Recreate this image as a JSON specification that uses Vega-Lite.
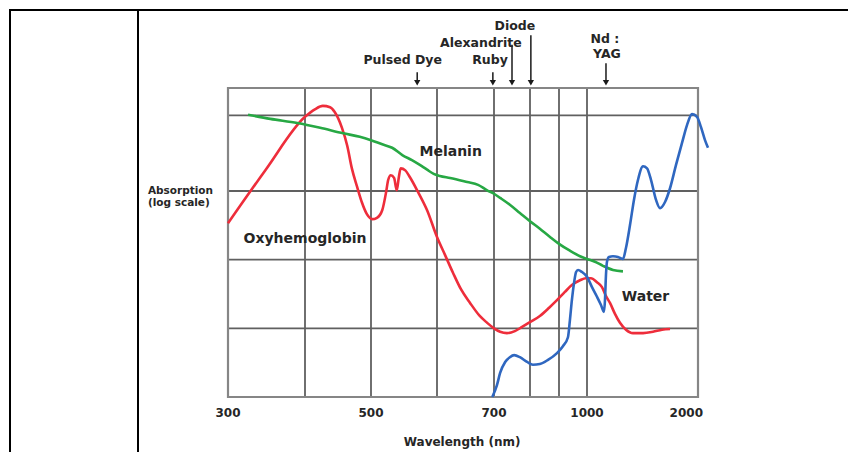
{
  "$schema": "https://vega.github.io/schema/vega-lite/v6.json",
  "background": "white",
  "padding": {"left": 9, "top": 9, "right": -11, "bottom": -19},
  "spacing": 0,
  "bounds": "flush",
  "config": {
    "view": {"stroke": "black", "strokeWidth": 2},
    "axis": {"disable": true},
    "text": {"font": "DejaVu Sans", "fontWeight": "bold", "color": "#262626"}
  },
  "datasets": {
    "curves": [
      {"series": "Oxyhemoglobin", "wl": 300, "a": 2.53},
      {"series": "Oxyhemoglobin", "wl": 349, "a": 3.31},
      {"series": "Oxyhemoglobin", "wl": 400, "a": 4.08},
      {"series": "Oxyhemoglobin", "wl": 415, "a": 4.19},
      {"series": "Oxyhemoglobin", "wl": 427, "a": 4.24},
      {"series": "Oxyhemoglobin", "wl": 438, "a": 4.22},
      {"series": "Oxyhemoglobin", "wl": 445, "a": 4.15},
      {"series": "Oxyhemoglobin", "wl": 456, "a": 3.92},
      {"series": "Oxyhemoglobin", "wl": 464, "a": 3.66},
      {"series": "Oxyhemoglobin", "wl": 471, "a": 3.33},
      {"series": "Oxyhemoglobin", "wl": 479, "a": 3.06},
      {"series": "Oxyhemoglobin", "wl": 486, "a": 2.84},
      {"series": "Oxyhemoglobin", "wl": 494, "a": 2.66},
      {"series": "Oxyhemoglobin", "wl": 502, "a": 2.59},
      {"series": "Oxyhemoglobin", "wl": 509, "a": 2.61},
      {"series": "Oxyhemoglobin", "wl": 517, "a": 2.72},
      {"series": "Oxyhemoglobin", "wl": 523, "a": 2.99},
      {"series": "Oxyhemoglobin", "wl": 526, "a": 3.16},
      {"series": "Oxyhemoglobin", "wl": 530, "a": 3.23},
      {"series": "Oxyhemoglobin", "wl": 535, "a": 3.19},
      {"series": "Oxyhemoglobin", "wl": 539, "a": 3.01},
      {"series": "Oxyhemoglobin", "wl": 542, "a": 3.19},
      {"series": "Oxyhemoglobin", "wl": 545, "a": 3.33},
      {"series": "Oxyhemoglobin", "wl": 552, "a": 3.30},
      {"series": "Oxyhemoglobin", "wl": 559, "a": 3.20},
      {"series": "Oxyhemoglobin", "wl": 571, "a": 2.99},
      {"series": "Oxyhemoglobin", "wl": 585, "a": 2.72},
      {"series": "Oxyhemoglobin", "wl": 600, "a": 2.33},
      {"series": "Oxyhemoglobin", "wl": 614, "a": 2.07},
      {"series": "Oxyhemoglobin", "wl": 628, "a": 1.81},
      {"series": "Oxyhemoglobin", "wl": 642, "a": 1.57},
      {"series": "Oxyhemoglobin", "wl": 658, "a": 1.37},
      {"series": "Oxyhemoglobin", "wl": 675, "a": 1.18},
      {"series": "Oxyhemoglobin", "wl": 688, "a": 1.08},
      {"series": "Oxyhemoglobin", "wl": 700, "a": 1.00},
      {"series": "Oxyhemoglobin", "wl": 717, "a": 0.95},
      {"series": "Oxyhemoglobin", "wl": 736, "a": 0.93},
      {"series": "Oxyhemoglobin", "wl": 758, "a": 0.96},
      {"series": "Oxyhemoglobin", "wl": 778, "a": 1.02},
      {"series": "Oxyhemoglobin", "wl": 800, "a": 1.09},
      {"series": "Oxyhemoglobin", "wl": 834, "a": 1.18},
      {"series": "Oxyhemoglobin", "wl": 866, "a": 1.30},
      {"series": "Oxyhemoglobin", "wl": 893, "a": 1.41},
      {"series": "Oxyhemoglobin", "wl": 921, "a": 1.53},
      {"series": "Oxyhemoglobin", "wl": 946, "a": 1.63},
      {"series": "Oxyhemoglobin", "wl": 975, "a": 1.70},
      {"series": "Oxyhemoglobin", "wl": 996, "a": 1.73},
      {"series": "Oxyhemoglobin", "wl": 1036, "a": 1.73},
      {"series": "Oxyhemoglobin", "wl": 1090, "a": 1.67},
      {"series": "Oxyhemoglobin", "wl": 1135, "a": 1.60},
      {"series": "Oxyhemoglobin", "wl": 1171, "a": 1.47},
      {"series": "Oxyhemoglobin", "wl": 1207, "a": 1.37},
      {"series": "Oxyhemoglobin", "wl": 1252, "a": 1.21},
      {"series": "Oxyhemoglobin", "wl": 1297, "a": 1.08},
      {"series": "Oxyhemoglobin", "wl": 1351, "a": 0.98},
      {"series": "Oxyhemoglobin", "wl": 1414, "a": 0.93},
      {"series": "Oxyhemoglobin", "wl": 1505, "a": 0.93},
      {"series": "Oxyhemoglobin", "wl": 1595, "a": 0.95},
      {"series": "Oxyhemoglobin", "wl": 1676, "a": 0.98},
      {"series": "Oxyhemoglobin", "wl": 1748, "a": 0.99},
      {"series": "Melanin", "wl": 326, "a": 4.11},
      {"series": "Melanin", "wl": 355, "a": 4.05},
      {"series": "Melanin", "wl": 390, "a": 3.99},
      {"series": "Melanin", "wl": 423, "a": 3.92},
      {"series": "Melanin", "wl": 458, "a": 3.84},
      {"series": "Melanin", "wl": 483, "a": 3.79},
      {"series": "Melanin", "wl": 500, "a": 3.74},
      {"series": "Melanin", "wl": 517, "a": 3.68},
      {"series": "Melanin", "wl": 532, "a": 3.63},
      {"series": "Melanin", "wl": 548, "a": 3.52},
      {"series": "Melanin", "wl": 562, "a": 3.45},
      {"series": "Melanin", "wl": 574, "a": 3.38},
      {"series": "Melanin", "wl": 585, "a": 3.31},
      {"series": "Melanin", "wl": 595, "a": 3.25},
      {"series": "Melanin", "wl": 605, "a": 3.22},
      {"series": "Melanin", "wl": 623, "a": 3.19},
      {"series": "Melanin", "wl": 653, "a": 3.13},
      {"series": "Melanin", "wl": 672, "a": 3.09},
      {"series": "Melanin", "wl": 688, "a": 3.01},
      {"series": "Melanin", "wl": 700, "a": 2.96},
      {"series": "Melanin", "wl": 717, "a": 2.90},
      {"series": "Melanin", "wl": 744, "a": 2.80},
      {"series": "Melanin", "wl": 772, "a": 2.68},
      {"series": "Melanin", "wl": 800, "a": 2.56},
      {"series": "Melanin", "wl": 834, "a": 2.45},
      {"series": "Melanin", "wl": 869, "a": 2.33},
      {"series": "Melanin", "wl": 900, "a": 2.23},
      {"series": "Melanin", "wl": 939, "a": 2.13},
      {"series": "Melanin", "wl": 975, "a": 2.05},
      {"series": "Melanin", "wl": 1000, "a": 2.01},
      {"series": "Melanin", "wl": 1072, "a": 1.97},
      {"series": "Melanin", "wl": 1144, "a": 1.91},
      {"series": "Melanin", "wl": 1234, "a": 1.85},
      {"series": "Melanin", "wl": 1324, "a": 1.83},
      {"series": "Water", "wl": 697, "a": 0.00},
      {"series": "Water", "wl": 708, "a": 0.17},
      {"series": "Water", "wl": 717, "a": 0.35},
      {"series": "Water", "wl": 731, "a": 0.51},
      {"series": "Water", "wl": 744, "a": 0.58},
      {"series": "Water", "wl": 756, "a": 0.61},
      {"series": "Water", "wl": 772, "a": 0.58},
      {"series": "Water", "wl": 792, "a": 0.51},
      {"series": "Water", "wl": 810, "a": 0.47},
      {"series": "Water", "wl": 834, "a": 0.48},
      {"series": "Water", "wl": 862, "a": 0.54},
      {"series": "Water", "wl": 893, "a": 0.64},
      {"series": "Water", "wl": 914, "a": 0.74},
      {"series": "Water", "wl": 932, "a": 0.87},
      {"series": "Water", "wl": 939, "a": 1.12},
      {"series": "Water", "wl": 946, "a": 1.41},
      {"series": "Water", "wl": 954, "a": 1.67},
      {"series": "Water", "wl": 961, "a": 1.82},
      {"series": "Water", "wl": 968, "a": 1.85},
      {"series": "Water", "wl": 982, "a": 1.82},
      {"series": "Water", "wl": 1000, "a": 1.75},
      {"series": "Water", "wl": 1045, "a": 1.60},
      {"series": "Water", "wl": 1090, "a": 1.46},
      {"series": "Water", "wl": 1126, "a": 1.34},
      {"series": "Water", "wl": 1153, "a": 1.24},
      {"series": "Water", "wl": 1162, "a": 1.41},
      {"series": "Water", "wl": 1171, "a": 1.78},
      {"series": "Water", "wl": 1180, "a": 1.97},
      {"series": "Water", "wl": 1198, "a": 2.04},
      {"series": "Water", "wl": 1234, "a": 2.05},
      {"series": "Water", "wl": 1279, "a": 2.04},
      {"series": "Water", "wl": 1324, "a": 2.01},
      {"series": "Water", "wl": 1351, "a": 2.17},
      {"series": "Water", "wl": 1387, "a": 2.50},
      {"series": "Water", "wl": 1423, "a": 2.87},
      {"series": "Water", "wl": 1459, "a": 3.16},
      {"series": "Water", "wl": 1505, "a": 3.36},
      {"series": "Water", "wl": 1541, "a": 3.33},
      {"series": "Water", "wl": 1577, "a": 3.16},
      {"series": "Water", "wl": 1622, "a": 2.87},
      {"series": "Water", "wl": 1658, "a": 2.75},
      {"series": "Water", "wl": 1703, "a": 2.84},
      {"series": "Water", "wl": 1748, "a": 3.04},
      {"series": "Water", "wl": 1802, "a": 3.38},
      {"series": "Water", "wl": 1856, "a": 3.70},
      {"series": "Water", "wl": 1901, "a": 3.96},
      {"series": "Water", "wl": 1946, "a": 4.12},
      {"series": "Water", "wl": 1991, "a": 4.08},
      {"series": "Water", "wl": 2027, "a": 3.93},
      {"series": "Water", "wl": 2063, "a": 3.74},
      {"series": "Water", "wl": 2090, "a": 3.63}
    ],
    "vgrid": [{"wl": 400}, {"wl": 500}, {"wl": 600}, {"wl": 700}, {"wl": 800}, {"wl": 900}, {"wl": 1000}],
    "hgrid": [{"a": 1}, {"a": 2}, {"a": 3}, {"a": 4.1}],
    "box": [{"wl": 300, "wl2": 2000, "a": 0, "a2": 4.5}],
    "ticks": [{"wl": 300, "label": "300"}, {"wl": 500, "label": "500"}, {"wl": 700, "label": "700"}, {"wl": 1000, "label": "1000"}],
    "lasers": [
      {"laser": "Pulsed Dye", "wl": 570, "top": 4.73},
      {"laser": "Ruby", "wl": 698, "top": 4.73},
      {"laser": "Alexandrite", "wl": 750, "top": 5.13},
      {"laser": "Diode", "wl": 803, "top": 5.27},
      {"laser": "Nd:YAG", "wl": 1171, "top": 4.86}
    ],
    "laserLabels": [
      {"text": "Pulsed Dye", "wl": 548, "a": 4.91},
      {"text": "Ruby", "wl": 693, "a": 4.91},
      {"text": "Alexandrite", "wl": 677, "a": 5.155},
      {"text": "Diode", "wl": 758, "a": 5.40},
      {"text": "Nd :", "wl": 1162, "a": 5.21},
      {"text": "YAG", "wl": 1180, "a": 4.995}
    ],
    "curveLabels": [
      {"text": "Oxyhemoglobin", "wl": 400, "a": 2.3},
      {"text": "Melanin", "wl": 624, "a": 3.57},
      {"text": "Water", "wl": 1527, "a": 1.46}
    ],
    "ytitle": [{"text": "Absorption", "a": 3.0}, {"text": "(log scale)", "a": 2.82}]
  },
  "hconcat": [
    {
      "width": 128,
      "height": 460,
      "data": {"values": [{"u": 0.5, "v": 0.5}]},
      "mark": {"type": "point", "opacity": 0, "size": 1},
      "encoding": {
        "x": {"field": "u", "type": "quantitative", "axis": null, "scale": {"domain": [0, 1]}},
        "y": {"field": "v", "type": "quantitative", "axis": null, "scale": {"domain": [0, 1]}}
      }
    },
    {
      "width": 720,
      "height": 460,
      "layer": [
        {
          "data": {"name": "vgrid"},
          "mark": {"type": "rule", "color": "#606060", "strokeWidth": 1.8},
          "encoding": {
            "x": {"field": "wl", "type": "quantitative", "axis": null,
                  "scale": {"domain": [300, 400, 500, 600, 700, 800, 900, 1000, 2000], "range": [90, 167, 233, 299, 356, 392, 421, 449, 560], "nice": false, "zero": false}},
            "y": {"datum": 0, "type": "quantitative", "axis": null,
                  "scale": {"domain": [0, 4.5], "range": [387, 78], "nice": false, "zero": false}},
            "y2": {"datum": 4.5}
          }
        },
        {
          "data": {"name": "hgrid"},
          "mark": {"type": "rule", "color": "#606060", "strokeWidth": 1.8},
          "encoding": {
            "y": {"field": "a", "type": "quantitative", "axis": null},
            "x": {"datum": 300, "type": "quantitative", "axis": null},
            "x2": {"datum": 2000}
          }
        },
        {
          "data": {"name": "box"},
          "mark": {"type": "rect", "fill": null, "stroke": "#868686", "strokeWidth": 2.2},
          "encoding": {
            "x": {"field": "wl", "type": "quantitative", "axis": null},
            "x2": {"field": "wl2"},
            "y": {"field": "a", "type": "quantitative", "axis": null},
            "y2": {"field": "a2"}
          }
        },
        {
          "data": {"name": "curves"},
          "mark": {"type": "line", "interpolate": "monotone", "strokeWidth": 2.6},
          "encoding": {
            "x": {"field": "wl", "type": "quantitative", "axis": null},
            "y": {"field": "a", "type": "quantitative", "axis": null},
            "color": {"field": "series", "type": "nominal", "legend": null,
                      "scale": {"domain": ["Melanin", "Oxyhemoglobin", "Water"], "range": ["#27a844", "#ee2d3b", "#2f67c0"]}},
            "order": {"field": "wl", "type": "quantitative"}
          }
        },
        {
          "data": {"name": "lasers"},
          "mark": {"type": "rule", "color": "#1a1a1a", "strokeWidth": 1.5},
          "encoding": {
            "x": {"field": "wl", "type": "quantitative", "axis": null},
            "y": {"field": "top", "type": "quantitative", "axis": null},
            "y2": {"datum": 4.6}
          }
        },
        {
          "data": {"name": "lasers"},
          "mark": {"type": "point", "shape": "triangle-down", "filled": true, "color": "#1a1a1a", "size": 40, "opacity": 1},
          "encoding": {
            "x": {"field": "wl", "type": "quantitative", "axis": null},
            "y": {"datum": 4.575, "type": "quantitative", "axis": null}
          }
        },
        {
          "data": {"name": "laserLabels"},
          "mark": {"type": "text", "fontSize": 12.5, "baseline": "middle", "align": "center"},
          "encoding": {
            "x": {"field": "wl", "type": "quantitative", "axis": null},
            "y": {"field": "a", "type": "quantitative", "axis": null},
            "text": {"field": "text"}
          }
        },
        {
          "data": {"name": "curveLabels"},
          "mark": {"type": "text", "fontSize": 14, "baseline": "middle", "align": "center"},
          "encoding": {
            "x": {"field": "wl", "type": "quantitative", "axis": null},
            "y": {"field": "a", "type": "quantitative", "axis": null},
            "text": {"field": "text"}
          }
        },
        {
          "data": {"name": "ticks"},
          "mark": {"type": "text", "fontSize": 12, "baseline": "middle", "align": "center"},
          "encoding": {
            "x": {"field": "wl", "type": "quantitative", "axis": null},
            "y": {"datum": -0.24, "type": "quantitative", "axis": null},
            "text": {"field": "label"}
          }
        },
        {
          "data": {"values": [{"label": "2000"}]},
          "mark": {"type": "text", "fontSize": 12, "baseline": "middle", "align": "right", "dx": 5},
          "encoding": {
            "x": {"datum": 2000, "type": "quantitative", "axis": null},
            "y": {"datum": -0.24, "type": "quantitative", "axis": null},
            "text": {"field": "label"}
          }
        },
        {
          "data": {"values": [{"label": "Wavelength (nm)"}]},
          "mark": {"type": "text", "fontSize": 12, "baseline": "middle", "align": "center"},
          "encoding": {
            "x": {"datum": 644, "type": "quantitative", "axis": null},
            "y": {"datum": -0.655, "type": "quantitative", "axis": null},
            "text": {"field": "label"}
          }
        },
        {
          "data": {"name": "ytitle"},
          "mark": {"type": "text", "fontSize": 10.5, "baseline": "middle", "align": "left"},
          "encoding": {
            "x": {"datum": 196, "type": "quantitative", "axis": null},
            "y": {"field": "a", "type": "quantitative", "axis": null},
            "text": {"field": "text"}
          }
        }
      ]
    }
  ]
}
